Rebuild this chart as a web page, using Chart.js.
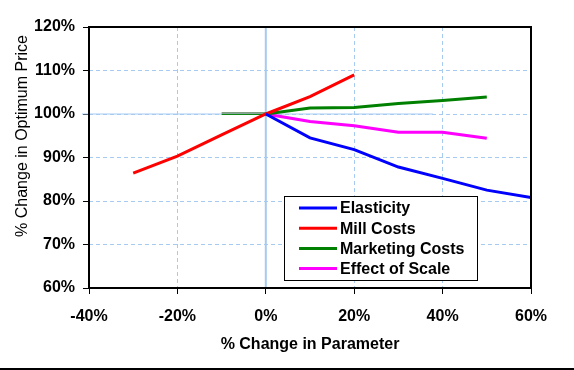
<!DOCTYPE html>
<html><head><meta charset="utf-8">
<script src="https://cdn.jsdelivr.net/npm/chart.js@4"></script>
<style>html,body{margin:0;padding:0;background:#fff;} canvas{display:block;}</style>
</head><body>
<canvas id="c" width="574" height="370"></canvas>
<script>
const seriesNames = ["Elasticity", "Mill Costs", "Marketing Costs", "Effect of Scale"];
const elasticityX = [0, 10, 20, 30, 40, 50, 60];
const elasticityY = [100, 94.5, 91.8, 87.8, 85.2, 82.5, 80.8];
const millX = [-30, -20, -10, 0, 10, 20];
const millY = [86.4, 90.3, 95.2, 100, 104.0, 109];
const marketingX = [0, 10, 20, 30, 40, 50];
const marketingY = [100, 101.4, 101.5, 102.4, 103.1, 103.9];
const scaleX = [0, 10, 20, 30, 40, 50];
const scaleY = [100, 98.3, 97.3, 95.8, 95.8, 94.4];
const baseLineX = [-41.6, 37.8];
const baseLineY = [100, 100];
const zeroLineX = [0, 0];
const zeroLineY = [60, 120];
const shortLineX = [-10, 0];
const shortLineY = [100, 100];
const xTickValues = [-40, -20, 0, 20, 40, 60];
const yTickValues = [60, 70, 80, 90, 100, 110, 120];
const xTitle = "% Change in Parameter";
const yTitle = "% Change in Optimum Price";

const pts = (xs, ys) => xs.map((x, i) => ({x: x, y: ys[i]}));
const colors = ["#0000ff", "#ff0000", "#008000", "#ff00ff"];
const FONT = "'Liberation Sans', Arial, sans-serif";
Chart.defaults.font.family = FONT;
Chart.defaults.color = "#000";

const mainSets = [pts(elasticityX, elasticityY), pts(millX, millY), pts(marketingX, marketingY), pts(scaleX, scaleY)]
  .map((d, i) => ({label: seriesNames[i], data: d, borderColor: colors[i], backgroundColor: colors[i],
    borderWidth: 3, pointRadius: 0, showLine: true, tension: 0, order: 1, isSeries: true}));

const refSets = [
  {label: "base", data: pts(baseLineX, baseLineY), borderColor: "#A6CAF0", borderWidth: 1, pointRadius: 0, showLine: true, clip: false, order: 5},
  {label: "zero", data: pts(zeroLineX, zeroLineY), borderColor: "#A6CAF0", borderWidth: 2, pointRadius: 0, showLine: true, order: 5},
  {label: "shortA", data: pts(shortLineX, shortLineY.map(v => v + 0.25)), borderColor: "#2e5a2e", borderWidth: 1, pointRadius: 0, showLine: true, order: 4},
  {label: "shortB", data: pts(shortLineX, shortLineY.map(v => v - 0.1)), borderColor: "#008000", borderWidth: 1, pointRadius: 0, showLine: true, order: 4}
];

const deco = {
  id: "deco",
  afterDraw(chart) {
    const ctx = chart.ctx, a = chart.chartArea;
    ctx.save();
    ctx.strokeStyle = "#000"; ctx.lineWidth = 2;
    ctx.strokeRect(a.left, a.top, a.right - a.left, a.bottom - a.top);
    const lx = 284, ly = 196, lw = 194, lh = 85;
    ctx.fillStyle = "#fff"; ctx.fillRect(lx, ly, lw, lh);
    ctx.lineWidth = 1; ctx.strokeStyle = "#000";
    ctx.strokeRect(lx + 0.5, ly + 0.5, lw - 1, lh - 1);
    ctx.font = "bold 16px " + FONT; ctx.textBaseline = "middle"; ctx.textAlign = "left";
    chart.data.datasets.filter(d => d.isSeries).forEach((d, i) => {
      const y = 208 + i * 20.2;
      ctx.strokeStyle = d.borderColor; ctx.lineWidth = 3;
      ctx.beginPath(); ctx.moveTo(299, y); ctx.lineTo(337, y); ctx.stroke();
      ctx.fillStyle = "#000"; ctx.fillText(d.label, 340, y + 1);
    });
    ctx.fillStyle = "#000";
    ctx.font = "bold 16px " + FONT; ctx.textAlign = "center"; ctx.textBaseline = "alphabetic";
    ctx.fillText(xTitle, (a.left + a.right) / 2, 349);
    ctx.save();
    ctx.translate(27, 136); ctx.rotate(-Math.PI / 2);
    ctx.font = "16px " + FONT;
    ctx.fillText(yTitle, 0, 0);
    ctx.restore();
    ctx.fillRect(0, 368, 574, 2);
    ctx.restore();
  }
};

new Chart(document.getElementById("c"), {
  type: "scatter",
  data: {datasets: mainSets.concat(refSets)},
  options: {
    responsive: false, animation: false,
    layout: {padding: {left: 0, right: 43, top: 27, bottom: 0}},
    plugins: {legend: {display: false}, tooltip: {enabled: false}},
    scales: {
      x: {
        type: "linear", min: -40, max: 60,
        afterBuildTicks: s => { s.ticks = xTickValues.map(v => ({value: v})); },
        afterFit: s => { s.height = 82; },
        ticks: {callback: v => v + "%", font: {size: 16, weight: "bold"}, padding: 13, maxRotation: 0, color: "#000"},
        grid: {color: "#A6CAF0", lineWidth: 1, tickColor: "#000", tickLength: 6, tickWidth: 1},
        border: {display: false, dash: [4, 3]}
      },
      y: {
        type: "linear", min: 60, max: 120,
        afterBuildTicks: s => { s.ticks = yTickValues.map(v => ({value: v})); },
        afterFit: s => { s.width = 89; },
        ticks: {callback: v => v + "%", font: {size: 16, weight: "bold"}, padding: 8, color: "#000"},
        grid: {color: "#A6CAF0", lineWidth: 1, tickColor: "#000", tickLength: 6, tickWidth: 1},
        border: {display: false, dash: [4, 3]}
      }
    }
  },
  plugins: [deco]
});
</script>
</body></html>
